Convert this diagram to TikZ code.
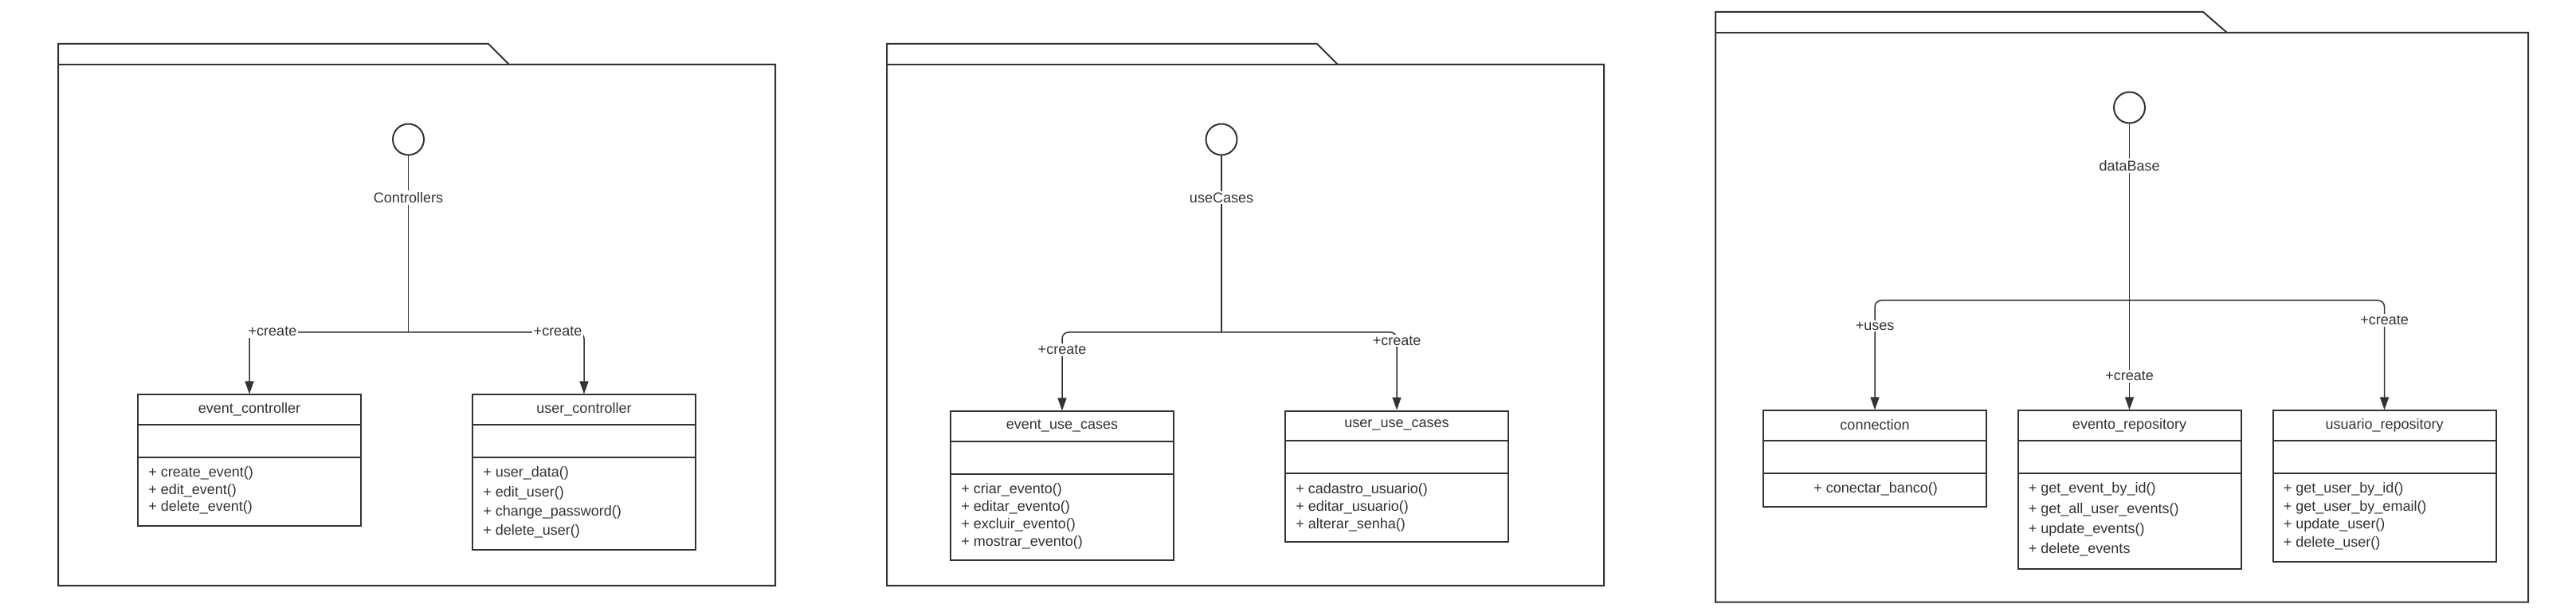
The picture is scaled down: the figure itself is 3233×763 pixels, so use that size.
\documentclass[tikz,border=0pt]{standalone}
\usepackage{fontspec}
\setmainfont{Liberation Sans}
\usetikzlibrary{arrows.meta}

\definecolor{ink}{HTML}{333333}
\newcommand{\umlfont}{\fontsize{9}{11}\selectfont}

% class box: name, x, top, height, title, line step, text offset, operations
\newcommand{\umlclass}[8]{%
  \node[classbox, minimum height=#4*0.5pt] (#1) at (#2,#3) {};
  \node[umltext] (#1-title) at (#2,#3+19) {#5};
  \draw[boxline] (#2-140,#3+38.5) -- (#2+140,#3+38.5);
  \draw[boxline] (#2-140,#3+79.5) -- (#2+140,#3+79.5);
  \foreach \op [count=\i from 0] in {#8}
    \node[umltext, anchor=base west] (#1-op\i) at (#2+#7,#3+104.5+\i*#6) {\op};
}

\begin{document}
\begin{tikzpicture}[x=0.5pt, y=-0.5pt,
  pkg/.style={draw=ink, line width=1pt},
  boxline/.style={draw=ink, line width=1pt},
  classbox/.style={draw=ink, line width=1pt, fill=white, minimum width=140pt, anchor=north, inner sep=0pt},
  ifc/.style={circle, draw=ink, line width=1pt, minimum size=19.5pt, inner sep=0pt},
  conn/.style={draw=ink, line width=0.75pt, rounded corners=4pt},
  arr/.style={-{Triangle[length=8pt, width=5.5pt]}},
  umltext/.style={font=\umlfont, text=ink, inner sep=0pt},
  lbl/.style={font=\umlfont, text=ink, fill=white, inner xsep=1pt, inner ysep=1pt}]

\useasboundingbox (0,0) rectangle (3233,763);

%% Controllers
\draw[pkg] (73,735) -- (73,55) -- (613,55) -- (639,81) -- (973,81) -- (973,735) -- cycle;
\draw[pkg] (73,81) -- (639,81);
\node[ifc] (ifcCtrl) at (512.5,175) {};
\coordinate (jCtrl) at (512.5,417);
\umlclass{evCtrl}{313}{494.5}{164.5}{event\_controller}{21.4}{-127}{+ create\_event(), + edit\_event(), + delete\_event()}
\umlclass{userCtrl}{733}{494.5}{195}{user\_controller}{24.2}{-127}{+ user\_data(), + edit\_user(), + change\_password(), + delete\_user()}
\draw[conn] (ifcCtrl) -- (jCtrl);
\draw[conn,arr] (jCtrl) -| (evCtrl.north);
\draw[conn,arr] (jCtrl) -| (userCtrl.north);
\node[lbl] (lblCtrl) at (512.5,248) {Controllers};
\node[lbl] (lblCtrlA) at (342,416) {+create};
\node[lbl] (lblCtrlB) at (700,416) {+create};

%% useCases
\draw[pkg] (1113,735) -- (1113,55) -- (1653,55) -- (1679,81) -- (2013,81) -- (2013,735) -- cycle;
\draw[pkg] (1113,81) -- (1679,81);
\node[ifc] (ifcUc) at (1533,175) {};
\coordinate (jUc) at (1533,417);
\umlclass{evUc}{1333}{515.4}{186.2}{event\_use\_cases}{21.8}{-127}{+ criar\_evento(), + editar\_evento(), + excluir\_evento(), + mostrar\_evento()}
\umlclass{userUc}{1753}{514.6}{164.2}{user\_use\_cases}{22}{-127}{+ cadastro\_usuario(), + editar\_usuario(), + alterar\_senha()}
\draw[conn] (ifcUc) -- (jUc);
\draw[conn,arr] (jUc) -| (evUc.north);
\draw[conn,arr] (jUc) -| (userUc.north);
\node[lbl] (lblUc) at (1533,248) {useCases};
\node[lbl] (lblUcA) at (1333,439) {+create};
\node[lbl] (lblUcB) at (1753,427.5) {+create};

%% dataBase
\draw[pkg] (2153,755.5) -- (2153,15) -- (2765,15) -- (2795,41) -- (3173,41) -- (3173,755.5) -- cycle;
\draw[pkg] (2153,41) -- (2795,41);
\node[ifc] (ifcDb) at (2672.5,135) {};
\coordinate (jDb) at (2672.5,377);
\umlclass{conn}{2353}{514.4}{121.1}{connection}{22}{-77}{+ conectar\_banco()}
\umlclass{evRepo}{2672.5}{514.4}{198.6}{evento\_repository}{25.3}{-127}{+ get\_event\_by\_id(), + get\_all\_user\_events(), + update\_events(), + delete\_events}
\umlclass{userRepo}{2992.5}{514.4}{189.2}{usuario\_repository}{22.4}{-127}{+ get\_user\_by\_id(), + get\_user\_by\_email(), + update\_user(), + delete\_user()}
\draw[conn,arr] (ifcDb) -- (evRepo.north);
\draw[conn,arr] (jDb) -| (conn.north);
\draw[conn,arr] (jDb) -| (userRepo.north);
\node[lbl] (lblDb) at (2672.5,208) {dataBase};
\node[lbl] (lblDbA) at (2353,409) {+uses};
\node[lbl] (lblDbB) at (2672.5,472) {+create};
\node[lbl] (lblDbC) at (2992.5,402) {+create};

\end{tikzpicture}
\end{document}
